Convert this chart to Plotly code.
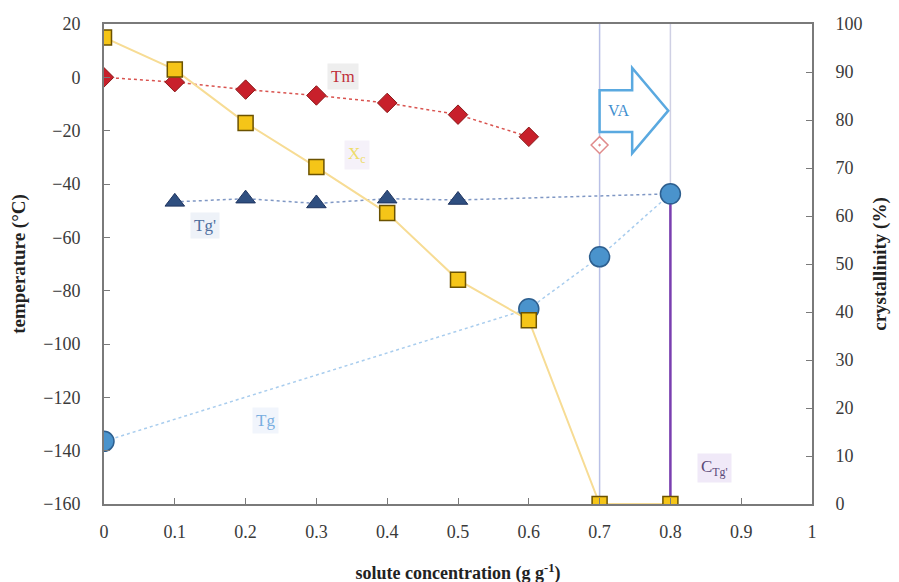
import plotly.graph_objects as go

# ---- data ----
conc_tm = [0.0, 0.1, 0.2, 0.3, 0.4, 0.5, 0.6]
tm = [0.0, -1.8, -4.6, -6.8, -9.6, -14.0, -22.3]
conc_tm_open = [0.7]
tm_open = [-25.4]

conc_tgp = [0.1, 0.2, 0.3, 0.4, 0.5]
tgp = [-46.7, -45.5, -47.3, -45.5, -46.0]

conc_tg = [0.0, 0.6, 0.7, 0.8]
tg = [-136.5, -86.8, -67.3, -43.7]

conc_xc = [0.0, 0.1, 0.2, 0.3, 0.4, 0.5, 0.6, 0.7, 0.8]
xc = [97.2, 90.5, 79.4, 70.2, 60.6, 46.7, 38.3, 0.0, 0.0]

x_ticks = [0, 0.1, 0.2, 0.3, 0.4, 0.5, 0.6, 0.7, 0.8, 0.9, 1]
x_ticklabels = ["0", "0.1", "0.2", "0.3", "0.4", "0.5", "0.6", "0.7", "0.8", "0.9", "1"]
y_ticks = [-160, -140, -120, -100, -80, -60, -40, -20, 0, 20]
y2_ticks = [0, 10, 20, 30, 40, 50, 60, 70, 80, 90, 100]

va_conc = 0.7      # start of vitrification arrow
ctg_conc = 0.8     # C_Tg'

FONT = "Liberation Serif"
AX = "#7a7a7a"

fig = go.Figure()

# vertical reference lines
fig.add_trace(go.Scatter(x=[va_conc, va_conc], y=[-160, 20], mode="lines",
                         line=dict(color="#b9c0e6", width=1.5), hoverinfo="skip", showlegend=False))
fig.add_trace(go.Scatter(x=[ctg_conc, ctg_conc], y=[-160, 20], mode="lines",
                         line=dict(color="#cfd0e4", width=1.5), hoverinfo="skip", showlegend=False))

# Tg (circles)
fig.add_trace(go.Scatter(x=conc_tg, y=tg, mode="lines",
                         line=dict(color="#a9cdee", width=1.5, dash="dot"), showlegend=False))
# Tg' (triangles) line extended to C_Tg'
fig.add_trace(go.Scatter(x=conc_tgp + [ctg_conc], y=tgp + [tg[-1]], mode="lines",
                         line=dict(color="#7f97c4", width=1.5, dash="dot"), showlegend=False))
# Tm line
fig.add_trace(go.Scatter(x=conc_tm, y=tm, mode="lines",
                         line=dict(color="#d9534f", width=1.5, dash="dot"), showlegend=False))

# purple C_Tg' line
fig.add_trace(go.Scatter(x=[ctg_conc, ctg_conc], y=[tg[-1], -160], mode="lines+markers",
                         line=dict(color="#7a3fb0", width=2.5),
                         marker=dict(size=[0, 10], color="#6a2aa0"), showlegend=False))

fig.add_trace(go.Scatter(x=conc_tg, y=tg, mode="markers",
                         marker=dict(symbol="circle", size=20, color="#4a93cc",
                                     line=dict(color="#2d5f8f", width=1.5)), showlegend=False))
fig.add_trace(go.Scatter(x=conc_tgp, y=tgp, mode="markers",
                         marker=dict(symbol="triangle-up", size=17, color="#2f4f80",
                                     line=dict(color="#1f3560", width=1)), showlegend=False))
fig.add_trace(go.Scatter(x=conc_tm, y=tm, mode="markers",
                         marker=dict(symbol="diamond", size=15, color="#c8202b",
                                     line=dict(color="#8a1a1a", width=1)), showlegend=False))
fig.add_trace(go.Scatter(x=conc_tm_open, y=tm_open, mode="markers",
                         marker=dict(symbol="diamond-dot", size=13, color="#ffffff",
                                     line=dict(color="#e08b8b", width=1.5)), showlegend=False))

# crystallinity (right axis)
fig.add_trace(go.Scatter(x=conc_xc, y=xc, mode="lines", yaxis="y2",
                         line=dict(color="#f7dc94", width=2), showlegend=False))
fig.add_trace(go.Scatter(x=conc_xc, y=xc, mode="markers", yaxis="y2",
                         marker=dict(symbol="square", size=15, color="#f5c518",
                                     line=dict(color="#6b5200", width=1.5)), showlegend=False))

# VA arrow (outline)
arrow_path = ("M 0.7,-4.8 L 0.746,-4.8 L 0.746,3.5 L 0.797,-12.5 "
              "L 0.746,-28.5 L 0.746,-20.5 L 0.7,-20.5 Z")
fig.add_shape(type="path", path=arrow_path, xref="x", yref="y",
              line=dict(color="#5aa9e0", width=2.5), fillcolor="rgba(255,255,255,0.9)")

def label(x, y, text, color, bg, size=17):
    fig.add_annotation(x=x, y=y, xref="x", yref="y", text=text, showarrow=False,
                       font=dict(family=FONT, size=size, color=color),
                       bgcolor=bg, borderpad=3)

label(0.726, -12.5, "VA", "#3f8fcf", "rgba(0,0,0,0)", 16)
label(0.338, 0.5, "Tm", "#c0303a", "#eeeeee")
label(0.357, -29, "X<sub>c</sub>", "#eedc6a", "#f5f1f9")
label(0.143, -55.5, "Tg'", "#4f6f9f", "#eef2f8")
label(0.228, -128.5, "Tg", "#79aee0", "#f1f5fc")
label(0.862, -146.5, "C<sub>Tg'</sub>", "#5b4a78", "#f0e9f8")

TICKF = dict(family=FONT, size=18, color="#3a3a3a")
TITF_Y = dict(family=FONT, size=19, color="#222222")
TITF_X = dict(family=FONT, size=18, color="#222222")

fig.update_layout(
    width=899, height=582,
    margin=dict(l=96, r=95, t=16, b=86),
    paper_bgcolor="white", plot_bgcolor="white",
    font=dict(family=FONT, size=16, color="#333333"),
    showlegend=False,
    xaxis=dict(range=[0, 1], tickvals=x_ticks, ticktext=x_ticklabels, tickfont=TICKF,
               automargin=False,
               showgrid=False, zeroline=False, showline=True, linecolor=AX, linewidth=2,
               mirror=True, ticks="inside", ticklen=6, tickcolor=AX, ticklabelstandoff=10,
               title=dict(text="<b>solute concentration (g g<sup>-1</sup>)</b>",
                          font=TITF_X, standoff=26)),
    yaxis=dict(range=[-160, 20], tickvals=y_ticks, tickfont=TICKF, showgrid=False,
               automargin=False,
               zeroline=False, showline=True, linecolor=AX, linewidth=2, ticks="inside",
               ticklen=6, tickcolor=AX, ticklabelstandoff=18,
               title=dict(text="<b>temperature (°C)</b>", font=TITF_Y, standoff=20)),
    yaxis2=dict(range=[0, 100], tickvals=y2_ticks, tickfont=TICKF, overlaying="y",
                automargin=False,
                side="right", showgrid=False, zeroline=False, showline=True, linecolor=AX,
                linewidth=2, ticks="inside", ticklen=6, tickcolor=AX, ticklabelstandoff=18,
                title=dict(text="<b>crystallinity (%)</b>", font=TITF_Y, standoff=11)),
)

fig.write_html("out.html")
